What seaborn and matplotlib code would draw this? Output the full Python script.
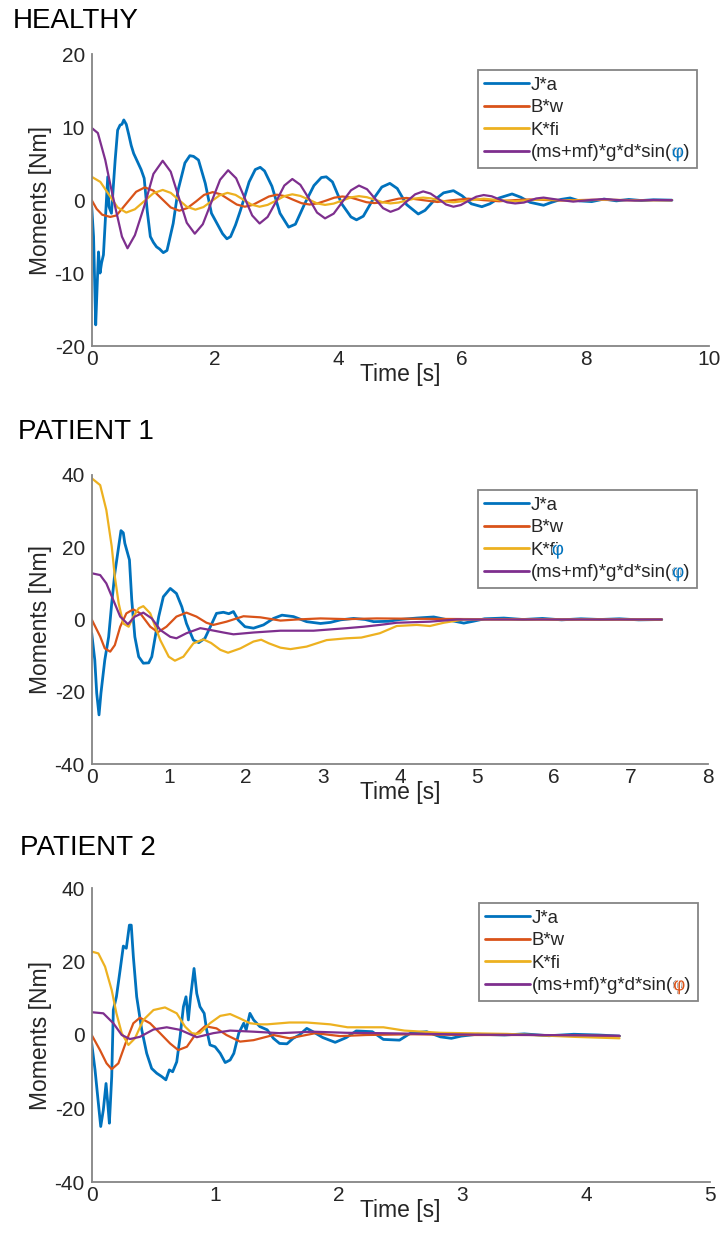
import numpy as np
import pandas as pd
import matplotlib
matplotlib.use("Agg")
import matplotlib.pyplot as plt
import matplotlib.patheffects as pe
import seaborn as sns

sns.set_style("white")
plt.rcParams["font.family"] = ["Liberation Sans", "DejaVu Sans"]
plt.rcParams["axes.unicode_minus"] = False

# ---------------------------------------------------------------- data
SERIES = ["J*a", "B*w", "K*fi", "(ms+mf)*g*d*sin(φ)"]
COLORS = ["#0072BD", "#D95319", "#EDB120", "#7E2F8E"]
WIDTHS = [2.0, 1.6, 1.6, 1.6]

# HEALTHY  (time [s], moment [Nm])
JA_HEALTHY = [
    (0.00, -0.9), (0.03, -5.0), (0.065, -17.1), (0.09, -11.4), (0.11, -7.1),
    (0.135, -10.0), (0.16, -8.6), (0.19, -7.5), (0.23, -1.3), (0.26, 3.2),
    (0.28, -0.9), (0.32, -1.8), (0.38, 5.5), (0.42, 9.6), (0.46, 10.3),
    (0.49, 10.4), (0.52, 11.0), (0.56, 10.4), (0.60, 9.0), (0.64, 7.5),
    (0.68, 6.4), (0.74, 5.3), (0.80, 4.2), (0.85, 3.0), (0.90, -1.5),
    (0.95, -5.0), (1.00, -5.8), (1.05, -6.4), (1.10, -6.7), (1.16, -7.2),
    (1.22, -6.9), (1.32, -3.2), (1.40, 1.4), (1.51, 5.1), (1.59, 6.1),
    (1.65, 6.0), (1.73, 5.5), (1.84, 2.3), (1.94, -1.8), (2.03, -3.2),
    (2.12, -4.6), (2.19, -5.3), (2.25, -5.0), (2.33, -3.4), (2.41, -1.4),
    (2.55, 2.5), (2.65, 4.2), (2.73, 4.5), (2.80, 4.0), (2.92, 1.9),
    (3.05, -1.8), (3.19, -3.7), (3.30, -3.3), (3.45, -0.5), (3.60, 2.0),
    (3.72, 3.1), (3.80, 3.2), (3.90, 2.5), (4.05, -0.5), (4.20, -2.3),
    (4.29, -2.7), (4.40, -2.2), (4.55, 0.0), (4.70, 1.8), (4.83, 2.3),
    (4.95, 1.6), (5.10, -0.6), (5.29, -1.9), (5.40, -1.4), (5.55, 0.0),
    (5.70, 1.0), (5.86, 1.3), (6.00, 0.6), (6.15, -0.5), (6.32, -0.9),
    (6.45, -0.5), (6.60, 0.3), (6.81, 0.85), (6.95, 0.4), (7.10, -0.3),
    (7.32, -0.7), (7.45, -0.3), (7.60, 0.1), (7.75, 0.3), (7.90, -0.1),
    (8.10, -0.2), (8.30, 0.15), (8.50, -0.1), (8.70, 0.1), (8.90, -0.05),
    (9.10, 0.05), (9.40, 0.0),
]
BW_HEALTHY = [
    (0.00, 0.0), (0.08, -1.2), (0.17, -2.0), (0.30, -2.3), (0.40, -2.1),
    (0.44, -1.7), (0.58, -0.27), (0.72, 1.15), (0.86, 1.75),
    (1.00, 1.3), (1.14, 0.15), (1.28, -1.0), (1.42, -1.45),
    (1.55, -1.08), (1.69, -0.18), (1.82, 0.72), (1.96, 1.1),
    (2.09, 0.8), (2.22, 0.1), (2.35, -0.6), (2.48, -0.9),
    (2.61, -0.65), (2.74, -0.07), (2.87, 0.5), (3.00, 0.75),
    (3.13, 0.55), (3.26, 0.07), (3.40, -0.42), (3.53, -0.6),
    (3.66, -0.44), (3.80, -0.05), (3.93, 0.34), (4.06, 0.5),
    (4.19, 0.37), (4.32, 0.05), (4.45, -0.28), (4.58, -0.4),
    (4.71, -0.3), (4.84, -0.05), (4.97, 0.2), (5.10, 0.3),
    (5.35, 0.02), (5.60, -0.25), (5.85, 0.0), (6.10, 0.2), (6.35, 0.0),
    (6.60, -0.15), (6.85, 0.0), (7.10, 0.1), (7.60, -0.05), (8.10, 0.05),
    (8.70, 0.0), (9.40, 0.0),
]
KFI_HEALTHY = [
    (0.00, 3.2), (0.14, 2.5), (0.28, 0.75), (0.42, -1.0), (0.56, -1.7),
    (0.70, -1.25), (0.85, -0.15), (1.00, 0.95), (1.15, 1.4),
    (1.28, 1.0), (1.41, 0.05), (1.54, -0.9), (1.68, -1.3),
    (1.81, -0.95), (1.94, -0.15), (2.07, 0.65), (2.20, 1.0),
    (2.33, 0.72), (2.46, 0.05), (2.59, -0.62), (2.72, -0.9),
    (2.85, -0.65), (2.99, -0.05), (3.12, 0.55), (3.25, 0.8),
    (3.38, 0.58), (3.52, 0.07), (3.65, -0.44), (3.78, -0.65),
    (3.92, -0.47), (4.06, -0.05), (4.20, 0.38), (4.33, 0.55),
    (4.46, 0.4), (4.59, 0.05), (4.72, -0.3), (4.84, -0.45),
    (4.97, -0.33), (5.10, -0.05), (5.24, 0.23), (5.37, 0.35),
    (5.49, 0.25), (5.62, 0.02), (5.74, -0.2), (5.86, -0.3),
    (6.10, -0.05), (6.35, 0.2), (6.60, 0.0), (6.86, -0.15), (7.10, 0.0),
    (7.32, 0.1), (7.80, -0.05), (8.30, 0.05), (8.80, 0.0), (9.40, 0.0),
]
GRAV_HEALTHY = [
    (0.00, 9.9), (0.10, 9.2), (0.22, 5.5), (0.30, 2.2), (0.38, -0.9),
    (0.49, -5.0), (0.58, -6.6),
    (0.70, -4.8), (0.86, -0.6), (1.00, 3.6), (1.15, 5.4),
    (1.28, 3.9), (1.41, 0.4), (1.54, -3.1), (1.67, -4.6),
    (1.80, -3.3), (1.94, -0.25), (2.08, 2.8), (2.21, 4.1),
    (2.34, 3.0), (2.47, 0.45), (2.60, -2.1), (2.72, -3.2),
    (2.85, -2.3), (2.99, -0.15), (3.12, 2.0), (3.25, 2.9),
    (3.38, 2.1), (3.52, 0.2), (3.65, -1.7), (3.78, -2.5),
    (3.92, -1.85), (4.06, -0.25), (4.20, 1.35), (4.33, 2.0),
    (4.46, 1.5), (4.59, 0.2), (4.72, -1.1), (4.84, -1.6),
    (4.97, -1.2), (5.10, -0.2), (5.24, 0.8), (5.37, 1.2),
    (5.49, 0.9), (5.62, 0.15), (5.74, -0.6), (5.86, -0.9),
    (5.98, -0.67), (6.10, -0.1), (6.23, 0.47), (6.35, 0.7),
    (6.48, 0.53), (6.60, 0.12), (6.73, -0.3), (6.86, -0.45),
    (7.00, -0.33), (7.10, -0.05), (7.20, 0.23), (7.32, 0.35),
    (7.56, 0.05), (7.80, -0.2), (8.05, 0.0), (8.30, 0.15), (8.55, 0.0),
    (8.80, -0.05), (9.10, 0.02), (9.40, 0.0),
]

# PATIENT 1
JA_P1 = [
    (0.00, -3.8), (0.04, -11.2), (0.065, -20.4), (0.095, -26.4), (0.12, -20.4),
    (0.14, -16.7), (0.17, -11.2), (0.22, -4.8), (0.26, 4.5), (0.30, 12.8),
    (0.35, 20.2), (0.38, 24.6), (0.41, 24.0), (0.43, 21.1), (0.49, 16.5),
    (0.52, 5.4), (0.56, -4.8), (0.61, -10.3), (0.67, -12.1), (0.74, -12.0),
    (0.78, -10.3), (0.87, 0.8), (0.93, 6.3), (1.02, 8.6), (1.10, 7.2),
    (1.17, 3.5), (1.23, -1.1), (1.32, -5.7), (1.39, -6.4), (1.47, -5.2),
    (1.56, -1.1), (1.62, 1.7), (1.71, 2.0), (1.78, 1.6), (1.84, 2.2),
    (1.90, -0.1), (1.99, -2.0), (2.10, -2.4), (2.23, -1.5), (2.36, 0.3),
    (2.47, 1.2), (2.62, 0.8), (2.79, -0.6), (2.97, -1.1), (3.10, -0.8),
    (3.23, -0.1), (3.40, 0.3), (3.55, 0.0), (3.66, -0.6), (3.85, -0.5),
    (4.00, 0.0), (4.22, 0.4), (4.44, 0.7), (4.60, 0.0), (4.83, -1.0),
    (4.95, -0.5), (5.10, 0.2), (5.35, 0.4), (5.60, 0.0), (5.85, 0.3),
    (6.10, -0.1), (6.35, 0.2), (6.60, 0.0), (6.85, 0.2), (7.10, -0.1),
    (7.40, 0.0),
]
BW_P1 = [
    (0.00, 0.0), (0.11, -4.7), (0.17, -8.0), (0.24, -8.9), (0.30, -7.1),
    (0.37, -2.0), (0.45, 1.7), (0.54, 2.8), (0.63, 1.7), (0.76, -2.0),
    (0.86, -3.5), (0.97, -2.0), (1.10, 0.8), (1.23, 1.9), (1.36, 0.8),
    (1.49, -0.9), (1.58, -1.5), (1.75, -0.6), (1.97, 0.9), (2.19, 0.6),
    (2.45, -0.3), (2.66, 0.0), (2.97, 0.3), (3.31, 0.1), (3.70, 0.3),
    (4.20, 0.2), (5.00, 0.1), (6.00, 0.0), (7.40, 0.0),
]
KFI_P1 = [
    (0.00, 39.1), (0.11, 37.2), (0.19, 30.3), (0.26, 20.2), (0.30, 11.9),
    (0.35, 4.5), (0.41, -1.1), (0.48, -2.0), (0.54, 0.8), (0.61, 3.1),
    (0.67, 3.7), (0.76, 1.7), (0.89, -5.7), (1.00, -10.3), (1.08, -11.4),
    (1.19, -10.3), (1.32, -6.6), (1.45, -5.5), (1.55, -6.5), (1.67, -8.4),
    (1.77, -9.2), (1.93, -8.0), (2.10, -6.1), (2.20, -5.6), (2.30, -6.6),
    (2.45, -7.8), (2.58, -8.2), (2.79, -7.5), (3.05, -5.7), (3.31, -5.2),
    (3.50, -5.0), (3.74, -3.8), (3.96, -1.8), (4.22, -1.5), (4.39, -1.8),
    (4.57, -0.9), (4.83, 0.0), (5.50, 0.0), (6.50, 0.0), (7.40, 0.0),
]
GRAV_P1 = [
    (0.00, 12.8), (0.11, 12.3), (0.19, 10.0), (0.28, 5.4), (0.37, 0.8),
    (0.47, -1.3), (0.56, 0.8), (0.67, 1.9), (0.78, 0.3), (0.89, -2.9),
    (1.02, -4.8), (1.10, -5.2), (1.23, -3.8), (1.41, -2.4), (1.54, -2.9),
    (1.71, -3.6), (1.84, -4.1), (2.10, -3.6), (2.45, -3.1), (2.88, -3.1),
    (3.31, -2.4), (3.53, -2.0), (3.74, -1.5), (3.96, -0.9), (4.39, -0.6),
    (4.74, 0.0), (5.50, 0.0), (6.50, 0.0), (7.40, 0.0),
]

# PATIENT 2
JA_P2 = [
    (0.00, -2.3), (0.027, -9.5), (0.054, -18.6), (0.073, -24.9), (0.094, -20.4),
    (0.116, -13.2), (0.13, -18.6), (0.143, -24.0), (0.162, -11.3), (0.175, 6.8),
    (0.20, 10.4), (0.23, 17.7), (0.256, 24.2), (0.28, 23.6), (0.305, 29.9),
    (0.32, 29.9), (0.337, 21.3), (0.364, 10.4), (0.405, 1.4), (0.445, -5.0),
    (0.485, -9.1), (0.526, -10.4), (0.566, -11.3), (0.60, -12.2), (0.628, -9.5),
    (0.655, -10.0), (0.688, -7.3), (0.715, -0.5), (0.742, 7.7), (0.763, 10.4),
    (0.782, 4.1), (0.80, 10.4), (0.828, 18.1), (0.85, 11.3), (0.876, 7.7),
    (0.91, 5.9), (0.93, 1.4), (0.957, -2.7), (0.998, -3.2), (1.04, -5.0),
    (1.08, -7.5), (1.12, -6.8), (1.15, -5.0), (1.19, 0.5), (1.23, 3.2),
    (1.25, 1.4), (1.28, 5.9), (1.31, 4.1), (1.36, 2.3), (1.42, 1.4),
    (1.47, -0.9), (1.52, -2.3), (1.58, -2.4), (1.63, -0.9), (1.68, 0.0),
    (1.74, 1.8), (1.79, 0.9), (1.87, -0.7), (1.97, -2.0), (2.06, -0.7),
    (2.14, 1.1), (2.27, 0.9), (2.36, -1.2), (2.49, -1.4), (2.58, 0.5),
    (2.71, 0.9), (2.82, -0.5), (2.91, -0.9), (2.99, -0.3), (3.12, 0.2),
    (3.34, 0.0), (3.50, 0.3), (3.70, -0.2), (3.90, 0.2), (4.10, 0.0),
    (4.27, -0.3),
]
BW_P2 = [
    (0.00, 0.0), (0.067, -4.1), (0.12, -7.7), (0.162, -9.3), (0.216, -7.7),
    (0.283, -1.4), (0.337, 3.2), (0.39, 4.7), (0.472, 3.2), (0.553, 0.5),
    (0.634, -2.3), (0.70, -4.1), (0.77, -3.2), (0.836, 0.0), (0.917, 2.4),
    (1.01, 1.8), (1.09, 0.0), (1.20, -1.8), (1.31, -1.4), (1.47, 0.0),
    (1.60, -0.9), (1.81, 0.5), (2.01, -0.3), (2.22, 0.0), (2.60, 0.2),
    (3.00, 0.0), (3.60, 0.0), (4.27, -0.3),
]
KFI_P2 = [
    (0.00, 22.7), (0.054, 22.2), (0.108, 18.6), (0.162, 12.2), (0.20, 5.9),
    (0.243, 0.5), (0.297, -2.7), (0.35, -0.9), (0.418, 4.1), (0.50, 6.8),
    (0.593, 7.5), (0.688, 5.9), (0.755, 2.3), (0.81, 0.5), (0.85, 0.3),
    (0.876, 0.5), (0.957, 3.2), (1.04, 5.2), (1.12, 5.7), (1.20, 4.5),
    (1.28, 3.2), (1.36, 2.9), (1.42, 2.9), (1.60, 3.4), (1.74, 3.4),
    (1.93, 2.9), (2.07, 2.1), (2.36, 2.1), (2.53, 1.2), (2.82, 0.6),
    (3.36, 0.3), (3.90, -0.5), (4.27, -0.9),
]
GRAV_P2 = [
    (0.00, 6.2), (0.094, 5.9), (0.175, 3.2), (0.243, 0.0), (0.31, -1.1),
    (0.39, -0.5), (0.50, 1.5), (0.607, 2.1), (0.715, 1.4), (0.85, -0.6),
    (0.984, 0.5), (1.12, 1.2), (1.31, 0.9), (1.52, 0.5), (1.79, 0.9),
    (2.06, 0.6), (2.33, 0.5), (2.70, 0.3), (3.10, 0.1), (3.60, 0.0),
    (4.27, -0.2),
]

TITLES = ["HEALTHY", "PATIENT 1", "PATIENT 2"]
XLIMS = [(0, 10), (0, 8), (0, 5)]
XTICKS = [[0, 2, 4, 6, 8, 10], [0, 1, 2, 3, 4, 5, 6, 7, 8], [0, 1, 2, 3, 4, 5]]
YLIMS = [(-20, 20), (-40, 40), (-40, 40)]
YTICKS = [[-20, -10, 0, 10, 20], [-40, -20, 0, 20, 40], [-40, -20, 0, 20, 40]]
PANEL_DATA = [
    [JA_HEALTHY, BW_HEALTHY, KFI_HEALTHY, GRAV_HEALTHY],
    [JA_P1, BW_P1, KFI_P1, GRAV_P1],
    [JA_P2, BW_P2, KFI_P2, GRAV_P2],
]


def long_frame(curves):
    frames = []
    for name, pts in zip(SERIES, curves):
        arr = np.asarray(pts, dtype=float)
        frames.append(pd.DataFrame({"time": arr[:, 0], "moment": arr[:, 1], "series": name}))
    return pd.concat(frames, ignore_index=True)


# ---------------------------------------------------------------- layout
W, H = 724, 1245
fig = plt.figure(figsize=(W / 100, H / 100), dpi=100)

# axes boxes in pixels: left, top, right, bottom
BOXES = [(91.7, 54.3, 709.0, 346.0), (91.7, 475.0, 708.0, 764.0), (91.7, 888.0, 709.7, 1182.0)]
TITLE_POS = [(13.0, 21.0), (18.0, 432.0), (20.0, 848.0)]
LEGEND_ANCHOR = [(0.980, 0.946), (0.982, 0.948), (0.981, 0.949)]

GREY = "#858585"
TEXT = "#262626"

legends = []
for i, (l, t, r, b) in enumerate(BOXES):
    ax = fig.add_axes([l / W, 1 - b / H, (r - l) / W, (b - t) / H])
    df = long_frame(PANEL_DATA[i])
    for name, col, lw in zip(SERIES, COLORS, WIDTHS):
        sub = df[df["series"] == name]
        sns.lineplot(data=sub, x="time", y="moment", color=col, lw=lw,
                     estimator=None, sort=False, ax=ax, legend=False)
    ax.set_xlim(*XLIMS[i])
    ax.set_ylim(*YLIMS[i])
    ax.set_xticks(XTICKS[i])
    ax.set_yticks(YTICKS[i])
    sns.despine(ax=ax)
    for s in ("left", "bottom"):
        ax.spines[s].set_color(GREY)
        ax.spines[s].set_linewidth(1.3)
    ax.tick_params(direction="in", length=5, width=1.2, color=GREY,
                   labelsize=15, labelcolor=TEXT)
    ax.tick_params(axis="x", pad=3)
    ax.tick_params(axis="y", pad=5)
    ax.set_xlabel("Time [s]", fontsize=16.5, color=TEXT, labelpad=-4.5)
    ax.set_ylabel("Moments [Nm]", fontsize=16.5, color=TEXT, labelpad=2)
    handles = [plt.Line2D([], [], color=c, lw=2.0) for c in COLORS]
    leg = ax.legend(handles, SERIES, loc="upper right", bbox_to_anchor=LEGEND_ANCHOR[i],
                    frameon=True, fancybox=False, edgecolor=GREY, framealpha=1,
                    fontsize=13.4, handlelength=2.4, handletextpad=0.1,
                    borderpad=0.35, labelspacing=0.3, borderaxespad=0)
    leg.get_frame().set_linewidth(1.3)
    for txt in leg.get_texts():
        txt.set_color(TEXT)
    legends.append(leg)
    tx, ty = TITLE_POS[i]
    fig.text(tx / W, 1 - ty / H, TITLES[i], fontsize=20, color="black",
             ha="left", va="center")

fig.canvas.draw()
renderer = fig.canvas.get_renderer()


def tint_glyph(text_obj, prefix, glyph, color, centre_on=None):
    """Redraw one character of a legend entry in another colour."""
    bbox = text_obj.get_window_extent(renderer)
    prop = text_obj.get_fontproperties()
    measure = lambda s: renderer.get_text_width_height_descent(s, prop, ismath=False)
    w_pre = measure(prefix)[0]
    desc = max(measure(text_obj.get_text())[2], measure("lp")[2])
    x = bbox.x0 + w_pre
    if centre_on is not None:
        x += measure(centre_on)[0] / 2 - measure(glyph)[0] / 2
    fig.text(x / fig.bbox.width, (bbox.y0 + desc) / fig.bbox.height,
             glyph, color=color, fontproperties=prop, ha="left", va="baseline",
             path_effects=[pe.withStroke(linewidth=1.0, foreground="white")])


PHI_COLORS = [COLORS[0], COLORS[0], COLORS[1]]
for leg, phi_col in zip(legends, PHI_COLORS):
    tint_glyph(leg.get_texts()[3], "(ms+mf)*g*d*sin(", "φ", phi_col)
tint_glyph(legends[1].get_texts()[2], "K*f", "φ", COLORS[0], centre_on="i")

fig.savefig("out.png", dpi=100)
